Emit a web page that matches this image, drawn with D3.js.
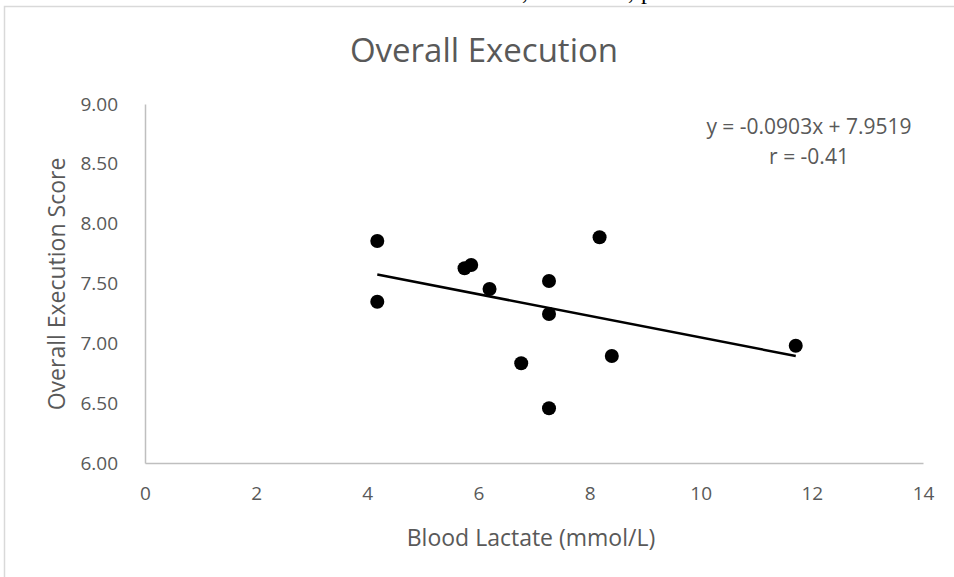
<!DOCTYPE html>
<html>
<head>
<meta charset="utf-8">
<script src="https://cdn.jsdelivr.net/npm/d3@7"></script>
<style>
  body { margin: 0; background: #fff; }
  text { font-family: "Open Sans", sans-serif; fill: #595959; }
</style>
</head>
<body>
<div id="chart"></div>
<script>
// data
var lactate = [4.18, 4.18, 5.75, 5.87, 6.2, 6.77, 7.27, 7.27, 7.27, 8.18, 8.4, 11.71];
var score = [7.855, 7.348, 7.627, 7.655, 7.454, 6.833, 7.521, 7.245, 6.457, 7.886, 6.894, 6.98];
var xTicks = [0, 2, 4, 6, 8, 10, 12, 14];
var yTicks = [6.0, 6.5, 7.0, 7.5, 8.0, 8.5, 9.0];
var trend = [-0.0903, 7.9519]; // slope, intercept
var labels = ['y = -0.0903x + 7.9519', 'r = -0.41'];

var width = 954, height = 577;

var svg = d3.select('#chart').append('svg')
    .attr('width', width)
    .attr('height', height);

//clipped text of the page above the figure
svg.append('g').selectAll('text')
    .data([[522, ','], [628, ','], [641, 'p']])
    .enter().append('text')
    .attr('x', function (d) { return d[0]; })
    .attr('y', -1)
    .style('font-family', '"Liberation Serif", serif')
    .style('font-size', '24px')
    .style('fill', '#000')
    .text(function (d) { return d[1]; });

//chart area border
svg.append('rect')
    .attr('x', 4.5).attr('y', 6.5)
    .attr('width', 960).attr('height', 580)
    .attr('fill', 'none')
    .attr('stroke', '#d9d9d9')
    .attr('stroke-width', 1.5);

var x = d3.scaleLinear().domain([0, 14]).range([145, 923]);
var y = d3.scaleLinear().domain([6, 9]).range([463, 104]);

//axes
var xAxis = svg.append('g')
    .attr('transform', 'translate(0,' + y(6) + ')')
    .call(d3.axisBottom(x).tickValues(xTicks).tickSize(0).tickPadding(24));
xAxis.select('.domain').attr('stroke', '#bfbfbf').attr('stroke-width', 1.5);

var yAxis = svg.append('g')
    .attr('transform', 'translate(' + x(0) + ',0)')
    .call(d3.axisLeft(y).tickValues(yTicks).tickSize(0).tickPadding(27)
        .tickFormat(d3.format('.2f')));
yAxis.select('.domain').attr('stroke', '#bfbfbf').attr('stroke-width', 1.5);

svg.selectAll('.tick text')
    .style('font-family', '"Open Sans", sans-serif')
    .style('font-size', '19px')
    .style('fill', '#595959');

//titles
svg.append('text')
    .attr('x', 484).attr('y', 62)
    .attr('text-anchor', 'middle')
    .style('font-size', '33px')
    .text('Overall Execution');

svg.append('text')
    .attr('transform', 'translate(65,284) rotate(-90)')
    .attr('text-anchor', 'middle')
    .style('font-size', '23px')
    .text('Overall Execution Score');

svg.append('text')
    .attr('x', 531).attr('y', 546)
    .attr('text-anchor', 'middle')
    .style('font-size', '23px')
    .text('Blood Lactate (mmol/L)');

//trendline
var xMin = d3.min(lactate), xMax = d3.max(lactate);
svg.append('line')
    .attr('x1', x(xMin)).attr('y1', y(trend[0] * xMin + trend[1]))
    .attr('x2', x(xMax)).attr('y2', y(trend[0] * xMax + trend[1]))
    .attr('stroke', '#000')
    .attr('stroke-width', 2.5);

//points
svg.append('g').selectAll('circle')
    .data(lactate)
    .enter().append('circle')
    .attr('cx', function (d) { return x(d); })
    .attr('cy', function (d, i) { return y(score[i]); })
    .attr('r', 7)
    .attr('fill', '#000');

//equation label
svg.append('g').selectAll('text')
    .data(labels)
    .enter().append('text')
    .attr('x', 809)
    .attr('y', function (d, i) { return 134 + i * 30; })
    .attr('text-anchor', 'middle')
    .style('font-size', '21px')
    .text(function (d) { return d; });
</script>
</body>
</html>
